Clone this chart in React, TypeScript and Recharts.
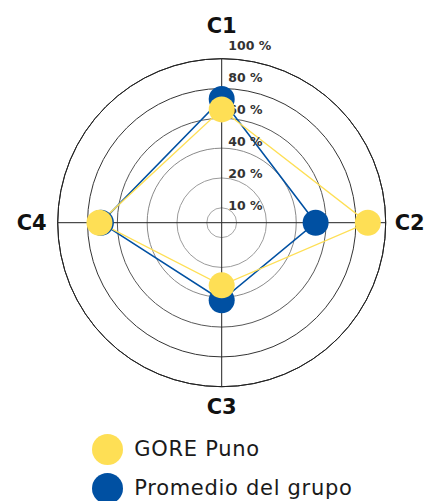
import { RadarChart, Radar, PolarGrid, PolarAngleAxis, PolarRadiusAxis } from "recharts"

const categories = ["C1", "C2", "C3", "C4"]
const gorePuno = [66, 88, 32, 72]
const promedioGrupo = [73, 53, 42, 71]
const tickPcts = [10, 20, 40, 60, 80, 100]
const tickLabels = ["10 %", "20 %", "40 %", "60 %", "80 %", "100 %"]

const YELLOW = "#fedf55"
const BLUE = "#0050a2"
const CX = 221.7
const CY = 222.7
const OUTER_R = 164

// rings are evenly spaced while the percents are not: map a percent to its ring level (0-100)
const levels = tickPcts.map((_, i) => ((i + 0.5) / (tickPcts.length - 0.5)) * 100)
function toLevel(pct: number) {
  if (pct <= tickPcts[0]) return (pct / tickPcts[0]) * levels[0]
  for (let i = 1; i < tickPcts.length; i++) {
    if (pct <= tickPcts[i]) {
      const t = (pct - tickPcts[i - 1]) / (tickPcts[i] - tickPcts[i - 1])
      return levels[i - 1] + t * (levels[i] - levels[i - 1])
    }
  }
  return levels[levels.length - 1]
}

const data = categories.map((c, i) => ({
  axis: c,
  gore: toLevel(gorePuno[i]),
  grupo: toLevel(promedioGrupo[i]),
}))

const angleOffsets: Record<string, [number, number]> = {
  C1: [0, -25],
  C2: [1, 0],
  C3: [0, 12],
  C4: [-3, 0],
}

function AngleTick(props: any) {
  const { x, y, payload, textAnchor } = props
  const [dx, dy] = angleOffsets[payload.value] ?? [0, 0]
  return (
    <text
      x={x + dx}
      y={y + dy}
      textAnchor={textAnchor}
      dominantBaseline="central"
      fontFamily="DejaVu Sans"
      fontWeight={700}
      fontSize={21}
      fill="#111"
    >
      {payload.value}
    </text>
  )
}

function RadiusTick(props: any) {
  const { x, y, payload } = props
  let i = 0
  levels.forEach((l, k) => {
    if (Math.abs(l - payload.value) < 1e-6) i = k
  })
  return (
    <text
      x={x + 6.6}
      y={y - (2 + 2.2 * i)}
      textAnchor="start"
      dominantBaseline="central"
      fontFamily="DejaVu Sans"
      fontWeight={700}
      fontSize={12.5}
      fill="#333"
    >
      {tickLabels[i]}
    </text>
  )
}

const makeDot = (color: string) => (p: any) => (
  <circle key={`${color}-${p.index}`} cx={p.cx} cy={p.cy} r={13} fill={color} />
)

function LegendItem({ color, label, top }: { color: string; label: string; top: number }) {
  return (
    <div style={{ position: "absolute", left: 92, top, height: 31, display: "flex", alignItems: "center" }}>
      <div style={{ width: 31, height: 31, borderRadius: 15.5, background: color }} />
      <span style={{ marginLeft: 11.3, fontSize: 21, color: "#1a1a1a", letterSpacing: 0.7, lineHeight: "31px" }}>
        {label}
      </span>
    </div>
  )
}

export default function App() {
  return (
    <div
      style={{
        position: "absolute",
        left: 0,
        top: 0,
        width: 426,
        height: 501,
        background: "#fff",
        fontFamily: "DejaVu Sans, sans-serif",
        overflow: "hidden",
      }}
    >
      <RadarChart width={426} height={430} data={data} cx={CX} cy={CY} outerRadius={OUTER_R}>
        <defs>
          <radialGradient id="ringShade" gradientUnits="userSpaceOnUse" cx={CX} cy={CY} r={OUTER_R}>
            <stop offset="0%" stopColor="#aaa" />
            <stop offset="30%" stopColor="#999" />
            <stop offset="46%" stopColor="#888" />
            <stop offset="64%" stopColor="#555" />
            <stop offset="82%" stopColor="#333" />
            <stop offset="100%" stopColor="#222" />
          </radialGradient>
        </defs>
        <PolarGrid gridType="circle" radialLines={false} stroke="url(#ringShade)" strokeOpacity={1} />
        <PolarGrid gridType="circle" polarRadius={[OUTER_R]} stroke="#222" strokeOpacity={1} />
        <PolarAngleAxis dataKey="axis" tick={<AngleTick />} tickLine={false} axisLine={false} />
        <PolarRadiusAxis
          angle={90}
          type="number"
          domain={[0, 100]}
          allowDataOverflow
          ticks={levels}
          tick={<RadiusTick />}
          axisLine={false}
          tickLine={false}
        />
        <Radar
          name="Promedio del grupo"
          dataKey="grupo"
          stroke={BLUE}
          strokeWidth={1.5}
          fill="none"
          fillOpacity={0}
          dot={makeDot(BLUE)}
          isAnimationActive={false}
        />
        <Radar
          name="GORE Puno"
          dataKey="gore"
          stroke={YELLOW}
          strokeWidth={1.3}
          fill="none"
          fillOpacity={0}
          dot={makeDot(YELLOW)}
          isAnimationActive={false}
        />
      </RadarChart>
      <LegendItem color={YELLOW} label="GORE Puno" top={434} />
      <LegendItem color={BLUE} label="Promedio del grupo" top={472.5} />
    </div>
  )
}
